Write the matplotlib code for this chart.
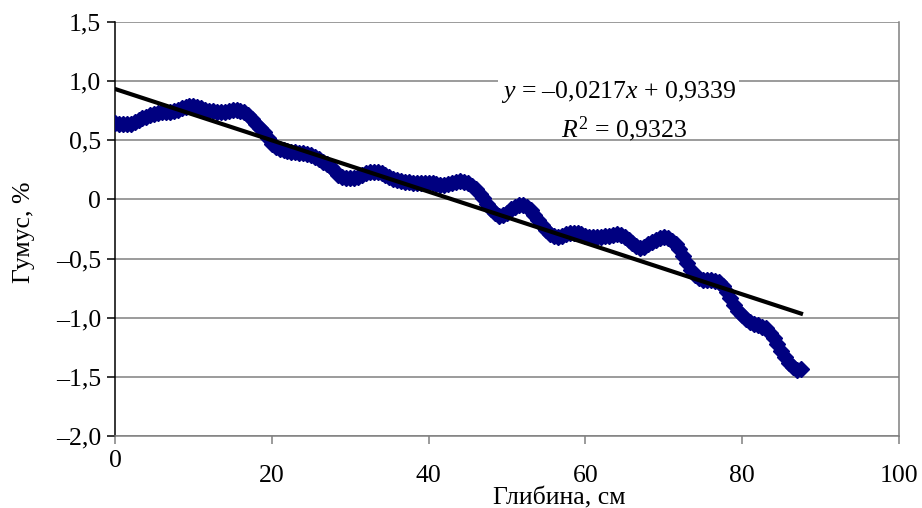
import numpy as np
import matplotlib
matplotlib.use('Agg')
import matplotlib.pyplot as plt
from matplotlib.transforms import ScaledTranslation

plt.rcParams['font.family'] = ['Liberation Serif', 'DejaVu Serif']
plt.rcParams['mathtext.fontset'] = 'custom'
plt.rcParams['mathtext.rm'] = 'Liberation Serif'
plt.rcParams['mathtext.it'] = 'Liberation Serif:italic'

# ── Data: humus anomaly vs depth, every 0.5 cm ──
depth = np.arange(0, 88, 0.5)
humus = [
    0.645, 0.64, 0.64, 0.64, 0.64, 0.655, 0.67, 0.685, 0.70, 0.71,
    0.72, 0.73, 0.735, 0.74, 0.74, 0.745, 0.755, 0.77, 0.78, 0.79,
    0.79, 0.785, 0.775, 0.76, 0.75, 0.745, 0.74, 0.74, 0.74, 0.75,
    0.755, 0.76, 0.75, 0.735, 0.71, 0.68, 0.64, 0.605, 0.57, 0.52,
    0.47, 0.445, 0.43, 0.42, 0.41, 0.405, 0.40, 0.395, 0.39, 0.385,
    0.375, 0.36, 0.34, 0.32, 0.30, 0.27, 0.24, 0.21, 0.19, 0.18,
    0.18, 0.18, 0.19, 0.205, 0.22, 0.23, 0.235, 0.235, 0.225, 0.21,
    0.19, 0.175, 0.165, 0.155, 0.15, 0.145, 0.14, 0.14, 0.14, 0.14,
    0.14, 0.135, 0.13, 0.125, 0.125, 0.13, 0.14, 0.15, 0.155, 0.15,
    0.135, 0.115, 0.09, 0.05, 0.01, -0.035, -0.08, -0.115, -0.14, -0.135,
    -0.115, -0.085, -0.06, -0.045, -0.045, -0.06, -0.09, -0.13, -0.17, -0.215,
    -0.26, -0.29, -0.31, -0.315, -0.31, -0.295, -0.285, -0.28, -0.28, -0.295,
    -0.31, -0.315, -0.32, -0.32, -0.315, -0.31, -0.305, -0.30, -0.295, -0.30,
    -0.315, -0.34, -0.37, -0.395, -0.41, -0.40, -0.38, -0.36, -0.34, -0.33,
    -0.32, -0.33, -0.355, -0.38, -0.42, -0.48, -0.54, -0.595, -0.64, -0.665,
    -0.68, -0.685, -0.685, -0.69, -0.70, -0.735, -0.78, -0.835, -0.89, -0.94,
    -0.98, -1.015, -1.04, -1.055, -1.065, -1.075, -1.09, -1.125, -1.17, -1.225,
    -1.28, -1.335, -1.38, -1.415, -1.44, -1.43,
]
slope, intercept, r2 = -0.0217, 0.9339, 0.9323

x_ticks = [0, 20, 40, 60, 80, 100]
y_ticks = [-2.0, -1.5, -1.0, -0.5, 0.0, 0.5, 1.0, 1.5]
y_labels = ['\u20132,0', '\u20131,5', '\u20131,0', '\u20130,5', '0', '0,5', '1,0', '1,5']

FS = 18.5
fig = plt.figure(figsize=(9.22, 5.08), dpi=100)
ax = fig.add_axes([115 / 922, 72 / 508, 784 / 922, 414 / 508])

ax.plot(depth, humus, linestyle='none', marker='D', ms=8.5,
        color='#000080', mec='#000080', zorder=3)
xt = np.array([depth[0], depth[-1]])
ax.plot(xt, slope * xt + intercept, color='black', lw=3, zorder=4)

ax.set_xlim(0, 100)
ax.set_ylim(-2.0, 1.5)
ax.set_yticks(y_ticks)
ax.set_yticklabels(y_labels, fontsize=FS)
ax.set_xticks(x_ticks)
ax.set_xticklabels([str(v) for v in x_ticks], fontsize=FS)
ax.yaxis.grid(True, color='#808080', lw=1.1)
ax.set_axisbelow(True)

ax.spines['top'].set_visible(False)
ax.spines['left'].set_color('black')
ax.spines['bottom'].set_color('#808080')
ax.spines['right'].set_color('#808080')
for s in ax.spines.values():
    s.set_linewidth(1.1)
ax.tick_params(axis='y', direction='out', length=6, width=1.1, color='black', pad=4)
ax.tick_params(axis='x', direction='out', length=6, width=1.1, color='#808080', pad=15)

# Excel staggers the first x label upward
lbl0 = ax.get_xticklabels()[0]
lbl0.set_transform(lbl0.get_transform() + ScaledTranslation(0, 15 / 100, fig.dpi_scale_trans))

ax.text(64.2, 0.905, '$y$ = \u20130,0217$x$ + 0,9339', ha='center', va='center',
        fontsize=FS, bbox=dict(facecolor='white', edgecolor='none', pad=2), zorder=5)
ax.text(64.9, 0.59, '$R^{2}$ = 0,9323', ha='center', va='center', fontsize=FS, zorder=5)

fig.text(559 / 922, 1 - 498 / 508, 'Глибина, см', ha='center', va='center', fontsize=FS)
fig.text(24 / 922, 1 - 232 / 508, 'Гумус, %', ha='center', va='center',
         rotation=90, fontsize=FS)

fig.savefig('out.png', dpi=100)
